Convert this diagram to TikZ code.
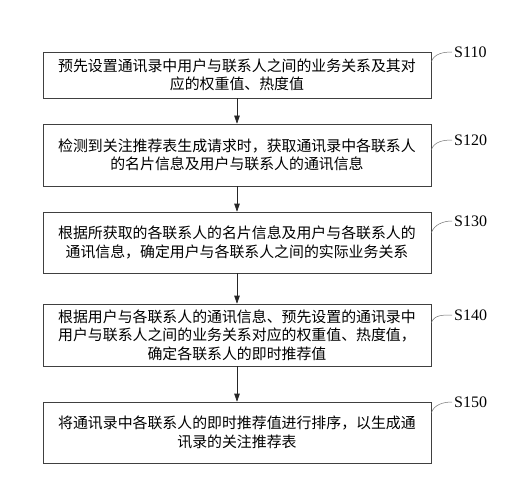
\documentclass[tikz,border=0pt]{standalone}
\usepackage{fontspec}
\setmainfont{Liberation Serif}
\newfontfamily\cjk{Noto Sans CJK SC}
\usetikzlibrary{arrows.meta}
\begin{document}
\begin{tikzpicture}[x=1pt,y=-1pt,
  stepbox/.style={draw=black!75, line width=0.6pt, minimum width=388pt, inner sep=0pt, align=center, font=\cjk\fontsize{14.9}{18.5}\selectfont},
  flow/.style={draw=black!85, line width=0.6pt, -{Triangle[length=8pt,width=5.5pt]}},
  tag/.style={anchor=west, inner sep=0pt, font=\fontsize{16}{18}\selectfont},
  lead/.style={draw=black!55, line width=0.5pt}]
\useasboundingbox (0,0) rectangle (528,503);
\node[stepbox, minimum height=46pt] (s110) at (237,75) {预先设置通讯录中用户与联系人之间的业务关系及其对\\应的权重值、热度值};
\node[stepbox, minimum height=62pt] (s120) at (237,155) {检测到关注推荐表生成请求时，获取通讯录中各联系人\\的名片信息及用户与联系人的通讯信息};
\node[stepbox, minimum height=61pt] (s130) at (237,242.5) {根据所获取的各联系人的名片信息及用户与各联系人的\\通讯信息，确定用户与各联系人之间的实际业务关系};
\node[stepbox, minimum height=62pt] (s140) at (237,335) {根据用户与各联系人的通讯信息、预先设置的通讯录中\\用户与联系人之间的业务关系对应的权重值、热度值，\\确定各联系人的即时推荐值};
\node[stepbox, minimum height=61pt] (s150) at (237,432.5) {将通讯录中各联系人的即时推荐值进行排序，以生成通\\讯录的关注推荐表};
\draw[flow] (s110) -- (s120);
\draw[flow] (s120) -- (s130);
\draw[flow] (s130) -- (s140);
\draw[flow] (s140) -- (s150);
\node[tag] (t110) at (454,52) {S110};
\node[tag] (t120) at (454,140) {S120};
\node[tag] (t130) at (454,221) {S130};
\node[tag] (t140) at (454,315) {S140};
\node[tag] (t150) at (454,402) {S150};
\draw[lead] ([yshift=-10pt]s110.north east) .. controls +(3,-8) and +(-9,0) .. ([xshift=-2pt]t110.west);
\draw[lead] ([yshift=-26pt]s120.north east) .. controls +(3,-8) and +(-9,0) .. ([xshift=-2pt]t120.west);
\draw[lead] ([yshift=-21pt]s130.north east) .. controls +(3,-8) and +(-9,0) .. ([xshift=-2pt]t130.west);
\draw[lead] ([yshift=-19pt]s140.north east) .. controls +(3,-8) and +(-9,0) .. ([xshift=-2pt]t140.west);
\draw[lead] ([yshift=-11pt]s150.north east) .. controls +(3,-8) and +(-9,0) .. ([xshift=-2pt]t150.west);
\end{tikzpicture}
\end{document}
